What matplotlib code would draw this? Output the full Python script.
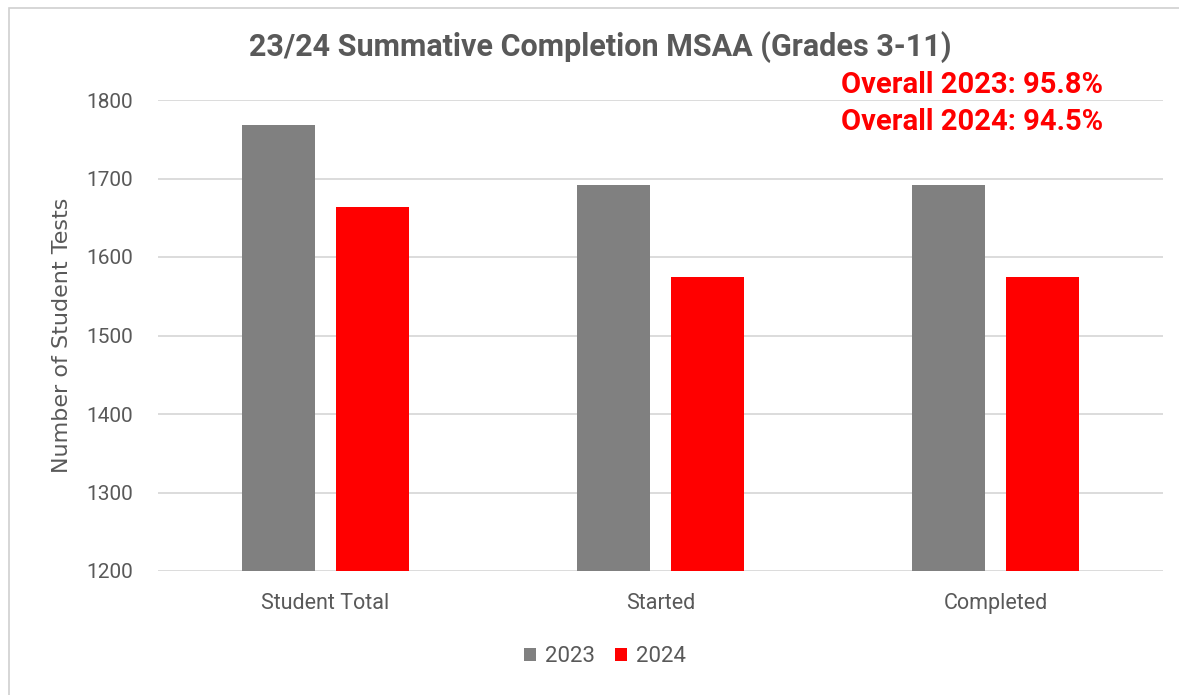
import numpy as np
import matplotlib.pyplot as plt
from matplotlib.patches import Rectangle

categories = ['Student Total', 'Started', 'Completed']
tests_2023 = [1768, 1692, 1692]
tests_2024 = [1664, 1575, 1575]
series_names = ['2023', '2024']
overall_notes = ['Overall 2023: 95.8%', 'Overall 2024: 94.5%']

gray = '#808080'
red = '#ff0000'
txt = '#595959'

fig = plt.figure(figsize=(11.79, 6.95), dpi=100)
ax = fig.add_axes([158 / 1179, 1 - 571 / 695, (1163 - 158) / 1179, (571 - 100) / 695])

x = np.arange(len(categories))
w = 0.22
off = 0.14
b1 = ax.bar(x - off, tests_2023, w, color=gray, label=series_names[0], zorder=3)
b2 = ax.bar(x + off, tests_2024, w, color=red, label=series_names[1], zorder=3)

ax.set_xlim(-0.5, 2.5)
ax.set_ylim(1200, 1800)
ax.set_yticks(np.arange(1200, 1801, 100))
ax.set_xticks(x)
ax.set_xticklabels(categories)
ax.grid(axis='y', color='#d9d9d9', linewidth=1.3, zorder=0)
for s in ax.spines.values():
    s.set_visible(False)
ax.tick_params(length=0, colors=txt, labelsize=15)
ax.tick_params(axis='x', pad=16)
ax.tick_params(axis='y', pad=18)
for t in ax.get_xticklabels() + ax.get_yticklabels():
    t.set_fontfamily('Roboto')
    t.set_color(txt)
for t in ax.get_xticklabels():
    t.set_fontsize(15.5)

ax.set_ylabel('Number of Student Tests', fontsize=16, color=txt, labelpad=10)

fig.text(600 / 1179, 1 - 47 / 695, '23/24 Summative Completion MSAA (Grades 3-11)',
         ha='center', va='center', fontsize=22, fontweight='bold',
         color=txt, family='Roboto')
fig.text(1103 / 1179, 1 - 85 / 695, overall_notes[0], ha='right', va='center',
         fontsize=21, fontweight='bold', color=red, family='Roboto')
fig.text(1103 / 1179, 1 - 122 / 695, overall_notes[1], ha='right', va='center',
         fontsize=21, fontweight='bold', color=red, family='Roboto')

leg = fig.legend(handles=[b1, b2], labels=series_names, loc='center',
                 bbox_to_anchor=(605 / 1179, 1 - 657 / 695), ncol=2, frameon=False,
                 fontsize=16, handlelength=0.55, handleheight=0.55, handletextpad=0.4,
                 columnspacing=0.9)
for t in leg.get_texts():
    t.set_color(txt)
    t.set_fontfamily('Roboto')

fig.patches.append(Rectangle((9 / 1179, -0.05), 1.2, 1 - 8 / 695 + 0.05,
                             transform=fig.transFigure, fill=False,
                             edgecolor='#d0d0d0', linewidth=1.2))

fig.savefig('out.png', dpi=100)
